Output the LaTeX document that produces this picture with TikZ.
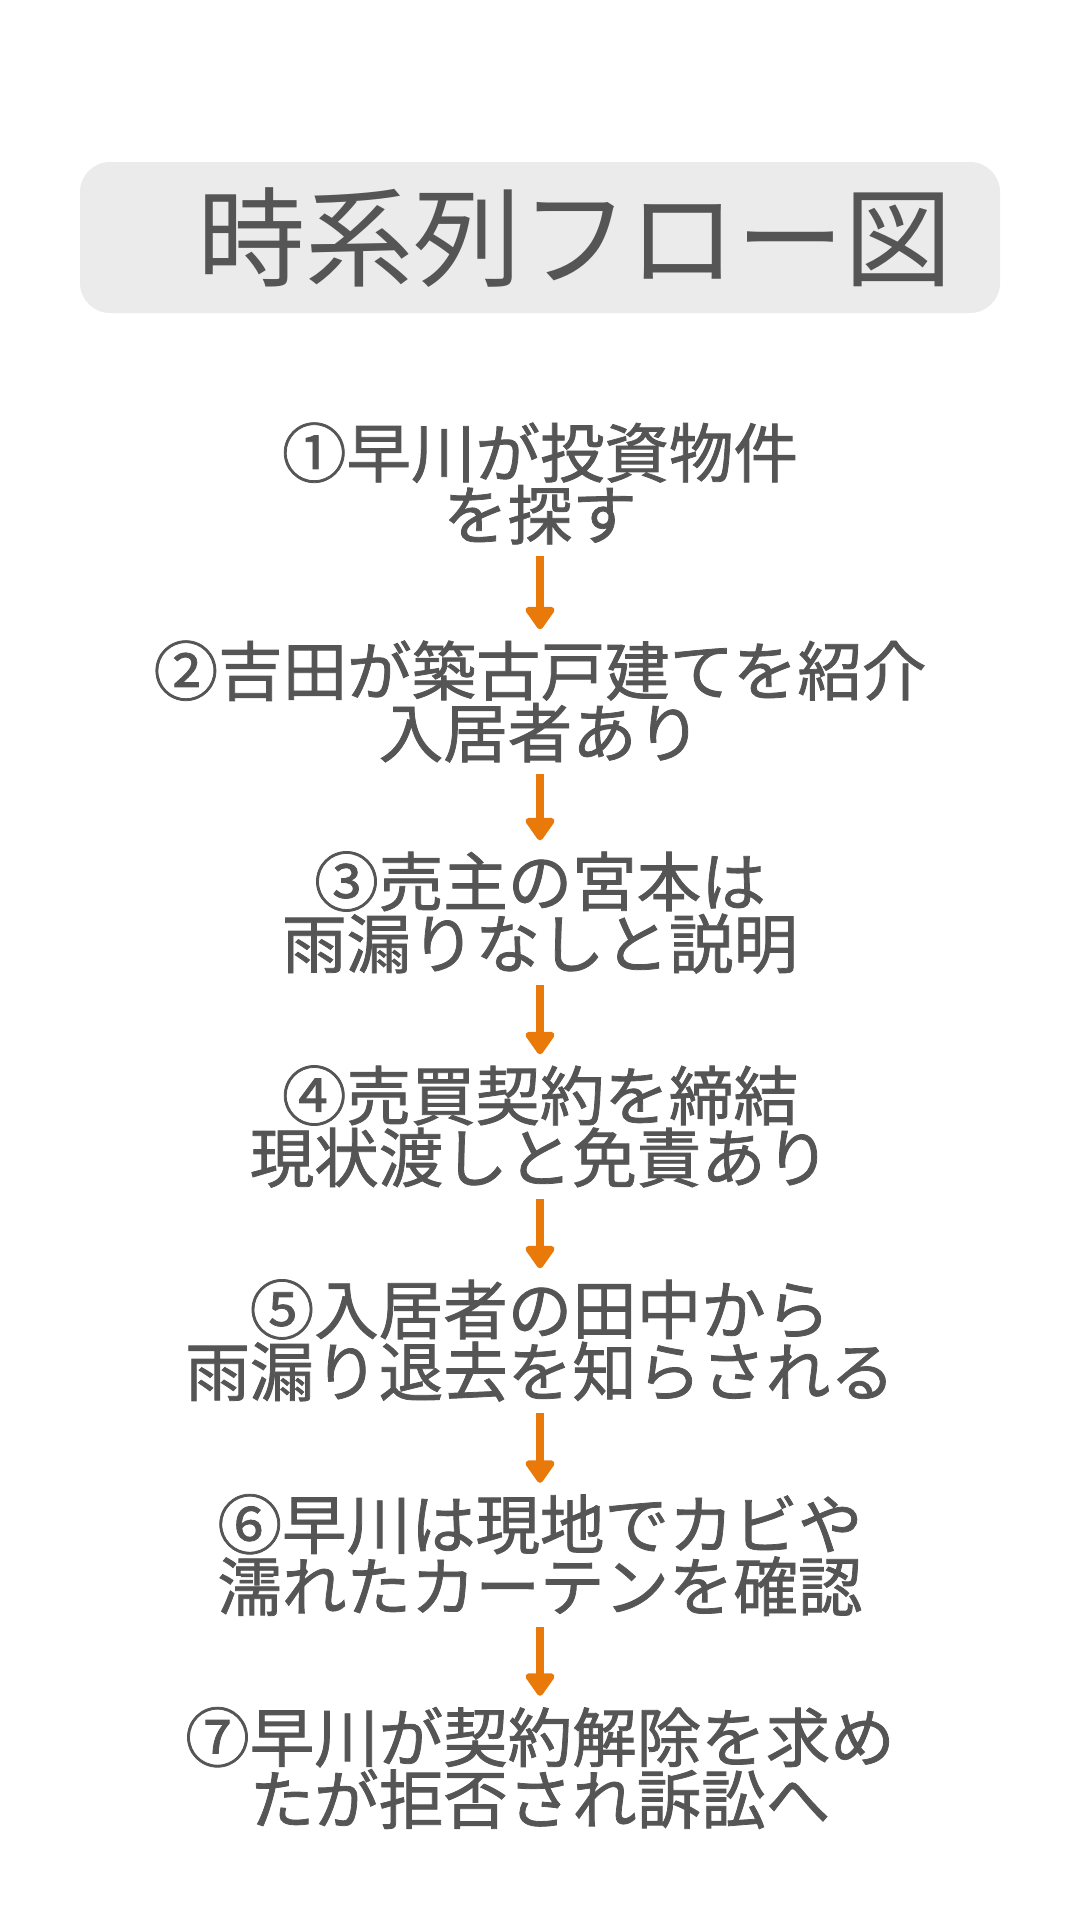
\documentclass[tikz,border=0pt]{standalone}
\usepackage{fontspec}
\usetikzlibrary{arrows.meta}
\newfontfamily\jpfont{Noto Sans CJK JP}
\newfontfamily\jpbodyfont[FakeBold=1.2]{Noto Sans CJK JP}
\definecolor{txtgray}{HTML}{555555}
\definecolor{boxgray}{HTML}{EBEBEB}
\definecolor{arroworange}{HTML}{E97A0A}
\tikzset{
  titlebox/.style={fill=boxgray, rounded corners=30pt, minimum width=920pt, minimum height=151pt, inner sep=0pt, text=txtgray, font=\jpfont\fontsize{108}{112}\selectfont},
  stepbox/.style={align=center, inner sep=0pt, minimum height=144pt, text=txtgray, font=\jpbodyfont\fontsize{64.5}{62}\selectfont},
  flowarrow/.style={draw=arroworange, line width=8pt, -{Triangle[width=33pt,length=25pt,round]}}
}
\begin{document}
\begin{tikzpicture}[x=1pt,y=-1pt]
\useasboundingbox (0,0) rectangle (1080,1920);
\node[titlebox] (title) at (540,237.5) {\hspace*{70pt}時系列フロー図};
\node[stepbox] (s1) at (540,483.5) {①早川が投資物件\\を探す};
\node[stepbox] (s2) at (540,701.5) {②吉田が築古戸建てを紹介\\入居者あり};
\node[stepbox] (s3) at (540,912.5) {③売主の宮本は\\雨漏りなしと説明};
\node[stepbox] (s4) at (540,1126.5) {④売買契約を締結\\現状渡しと免責あり};
\node[stepbox] (s5) at (540,1340.5) {⑤入居者の田中から\\雨漏り退去を知らされる};
\node[stepbox] (s6) at (540,1555) {⑥早川は現地でカビや\\濡れたカーテンを確認};
\node[stepbox] (s7) at (540,1768) {⑦早川が契約解除を求め\\たが拒否され訴訟へ};
\draw[flowarrow] (s1.south) -- (s2.north);
\draw[flowarrow] (s2.south) -- (s3.north);
\draw[flowarrow] (s3.south) -- (s4.north);
\draw[flowarrow] (s4.south) -- (s5.north);
\draw[flowarrow] (s5.south) -- (s6.north);
\draw[flowarrow] (s6.south) -- (s7.north);
\end{tikzpicture}
\end{document}
